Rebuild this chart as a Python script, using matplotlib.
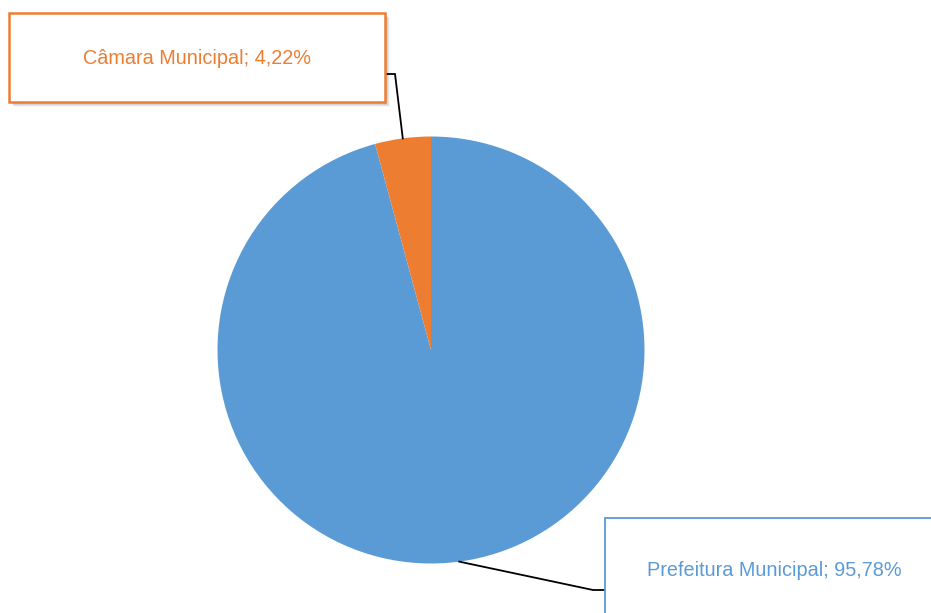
import numpy as np
import matplotlib.pyplot as plt
from matplotlib.patches import Rectangle

plt.rcParams['font.family'] = ['Liberation Sans', 'DejaVu Sans']

labels = ["Prefeitura Municipal", "Câmara Municipal"]
values = [95.78, 4.22]
colors = ["#5B9BD5", "#ED7D31"]

W, H = 931, 613
fig = plt.figure(figsize=(W / 100, H / 100), dpi=100)
ax = fig.add_axes([0, 0, 1, 1])

cx, cy, r = 431, H - 350, 213.5
wedges, _ = ax.pie(values, colors=colors, startangle=90, counterclock=False,
                   radius=r, center=(cx, cy), frame=True)
ax.set_xlim(0, W)
ax.set_ylim(0, H)
ax.set_aspect('equal')
ax.axis('off')

# label boxes (x, y-top, width, height) in pixel coords from top
boxes = [(605, 518, 340, 110), (9, 13, 376, 89)]
bends = [((593, 590), (605, 590)), ((395, 74), (385, 74))]

for i, w in enumerate(wedges):
    ang = np.deg2rad((w.theta1 + w.theta2) / 2)
    x0 = cx + r * np.cos(ang)
    y0 = cy + r * np.sin(ang)
    (bx, by), (ex, ey) = bends[i]
    ax.plot([x0, bx, ex], [y0, H - by, H - ey], color="black", lw=1.3,
            solid_joinstyle='miter', zorder=3)

    x, yt, bw, bh = boxes[i]
    if i == 1:
        # soft shadow
        for k in range(6):
            ax.add_patch(Rectangle((x + 2 + k * 0.6, H - yt - bh - 2 - k * 0.6), bw, bh,
                                   facecolor="#000000", alpha=0.035, edgecolor="none",
                                   zorder=3))
    ax.add_patch(Rectangle((x, H - yt - bh), bw, bh, facecolor="white",
                           edgecolor=colors[i], lw=1.8 if i == 1 else 1.3, zorder=4,
                           clip_on=False))
    txt = "%s; %s%%" % (labels[i], ("%.2f" % values[i]).replace(".", ","))
    tx = 197 if i == 1 else 774
    ty = 58 if i == 1 else 570
    ax.text(tx, H - ty, txt, color=colors[i], fontsize=14.3, ha="center",
            va="center", zorder=5)

fig.savefig("out.png", dpi=100)
